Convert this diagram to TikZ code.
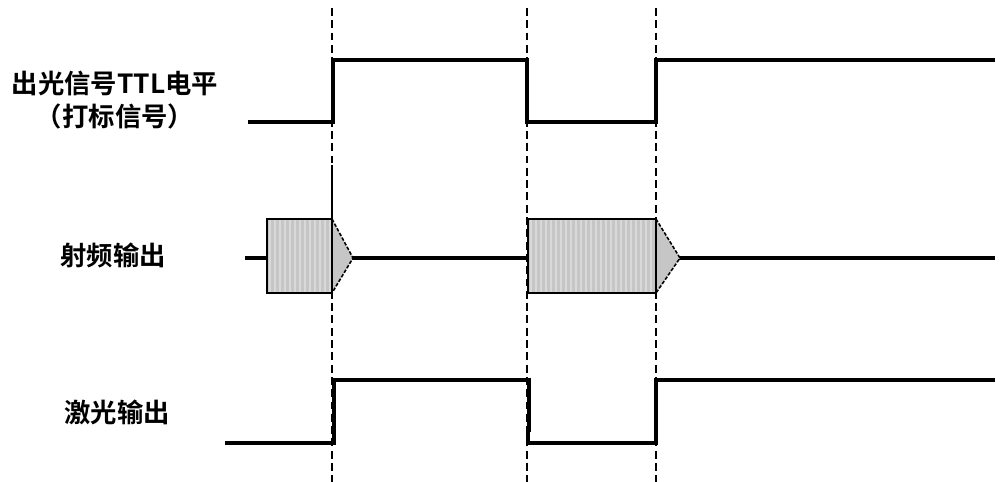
\documentclass[tikz,border=0pt]{standalone}
\usepackage{fontspec}
\newfontfamily\cjk{Noto Sans CJK SC Bold}
\begin{document}
\begin{tikzpicture}[x=0.02cm,y=-0.02cm,
  sig/.style={line width=2.4pt,line join=miter},
  guide/.style={line width=0.6pt,dash pattern=on 4.5pt off 2.5pt},
  lbl/.style={font=\cjk\fontsize{15}{19}\selectfont,align=center,inner sep=0pt},
  pulse/.style={draw=black,line width=0.9pt,fill=gray!45}]
\useasboundingbox (0,0) rectangle (1000,482);
% guide lines
\foreach \x/\n in {332/ga,527/gb,656/gc}{
  \coordinate (\n t) at (\x,8);
  \coordinate (\n b) at (\x,482);
  \draw[guide] (\n t) -- (\n b);
}
\coordinate (gam) at (332,165);
\coordinate (gan) at (332,219);
\draw[line width=0.6pt] (gam) -- (gan);
% labels
\node[lbl] (l1) at (115,100) {出光信号TTL电平\\（打标信号）};
\node[lbl] (l2) at (113,255) {射频输出};
\node[lbl] (l3) at (117,412) {激光输出};
% TTL
\draw[sig] (248,122) -- (333,122) -- (333,60) -- (527,60) -- (527,122) -- (656,122) -- (656,60) -- (995,60);
% RF
\coordinate (r0) at (245,258);
\draw[sig] (r0) -- (268,258);
\draw[sig] (352,258) -- (528,258);
\draw[sig] (678,258) -- (995,258);
\foreach \a/\b/\c in {267/332/353, 528/656/680}{
  \fill[gray!45] (\a,219) rectangle (\b,293);
  \fill[gray!45] (\b,219) -- (\c,258) -- (\b,293) -- cycle;
  \foreach \s in {0,5,...,200}{
    \pgfmathsetmacro\xx{\a+3+\s}
    \ifdim \xx pt<\b pt
      \draw[white!70!gray,line width=0.6pt] (\xx,220) -- (\xx,292);
    \fi
  }
  \draw[line width=0.9pt] (\a,219) rectangle (\b,293);
  \draw[line width=0.9pt,dash pattern=on 2pt off 1pt] (\b,219) -- (\c,258) -- (\b,293);
}
% laser
\draw[sig] (225,443) -- (334,443) -- (334,380) -- (527,380) -- (529,380) -- (529,430) -- (528,430) -- (528,443) -- (656,443) -- (656,380) -- (995,380);
\end{tikzpicture}
\end{document}
